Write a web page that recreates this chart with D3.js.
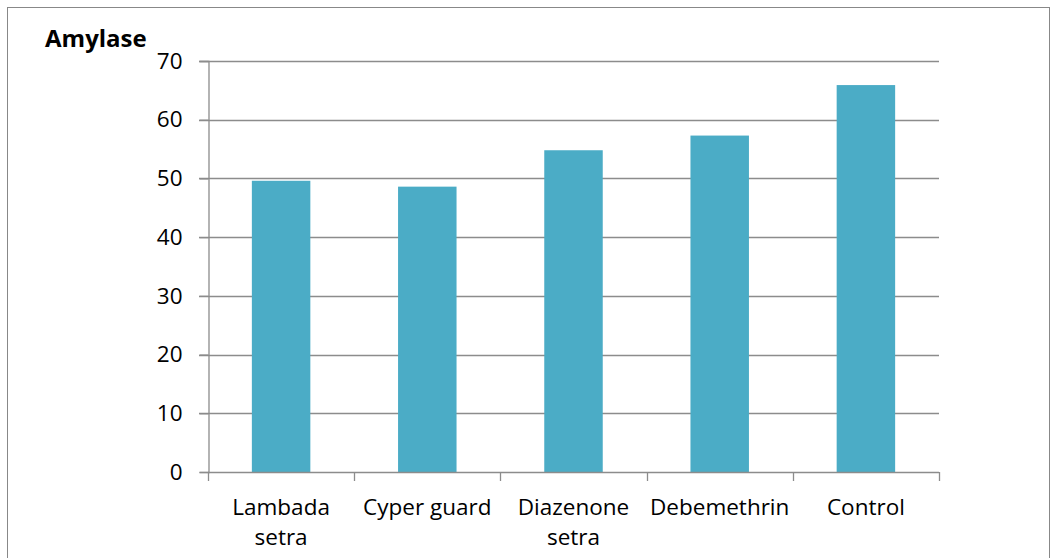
<!DOCTYPE html>
<html><head><meta charset="utf-8">
<script src="https://cdn.jsdelivr.net/npm/d3@7"></script>
<style>body{margin:0;background:#fff}svg{display:block}text{font-family:"Open Sans",sans-serif}</style>
</head><body>
<svg id="c" width="1053" height="558"></svg>
<script>
const categories = ["Lambada setra", "Cyper guard", "Diazenone setra", "Debemethrin", "Control"];
const labelLines = [["Lambada","setra"],["Cyper guard"],["Diazenone","setra"],["Debemethrin"],["Control"]];
const values = [49.6, 48.6, 54.8, 57.3, 65.9];
const yTicks = [0,10,20,30,40,50,60,70];
const title = "Amylase";

const svg = d3.select("#c");
const W = 1053, H = 558;
const m = {left:208, right:114, top:61, bottom:86};
svg.append("rect").attr("x",7.5).attr("y",7.5).attr("width",1042).attr("height",560)
  .attr("fill","#fff").attr("stroke","#888").attr("stroke-width",1);

const x = d3.scaleBand().domain(categories).range([m.left, W-m.right]).paddingInner(0.6).paddingOuter(0.3);
const y = d3.scaleLinear().domain([0,70]).range([H-m.bottom, m.top]);

const g = svg.append("g");
g.selectAll("line.grid").data(yTicks.filter(d=>d>0)).join("line")
  .attr("x1",m.left-9).attr("x2",W-m.right)
  .attr("y1",d=>Math.round(y(d))+0.5).attr("y2",d=>Math.round(y(d))+0.5)
  .attr("stroke","#8c8c8c").attr("stroke-width",1.3);

g.selectAll("rect.bar").data(values).join("rect")
  .attr("x",(d,i)=>x(categories[i])).attr("width",x.bandwidth())
  .attr("y",d=>y(d)).attr("height",d=>y(0)-y(d)).attr("fill","#4BACC6");

const ya = svg.append("g").attr("transform",`translate(${m.left+0.5},0)`)
  .call(d3.axisLeft(y).tickValues(yTicks).tickSize(9).tickPadding(17));
ya.select(".domain").attr("stroke","#8c8c8c").attr("stroke-width",1.3);
ya.selectAll(".tick line").attr("stroke","#8c8c8c").attr("stroke-width",1.3);
ya.selectAll(".tick text").attr("font-size",22.5).attr("fill","#000").attr("font-family","'Open Sans', sans-serif");

const x0 = y(0);
const step = (W-m.right-m.left)/categories.length;
svg.append("line").attr("x1",m.left).attr("x2",W-m.right).attr("y1",Math.round(x0)+0.5).attr("y2",Math.round(x0)+0.5)
  .attr("stroke","#8c8c8c").attr("stroke-width",1.3);
svg.selectAll("line.xt").data(d3.range(categories.length+1)).join("line")
  .attr("x1",i=>Math.round(m.left+i*step)+0.5).attr("x2",i=>Math.round(m.left+i*step)+0.5)
  .attr("y1",Math.round(x0)).attr("y2",Math.round(x0)+9)
  .attr("stroke","#8c8c8c").attr("stroke-width",1.3);

const lab = svg.selectAll("text.xl").data(categories).join("text")
  .attr("text-anchor","middle").attr("font-size",22.5).attr("fill","#000");
lab.each(function(c,i){
  const t = d3.select(this);
  labelLines[i].forEach((ln,j)=>{
    t.append("tspan").attr("x",x(c)+x.bandwidth()/2).attr("y",515+j*30).text(ln);
  });
});

svg.append("text").attr("x",45).attr("y",47).attr("font-size",24).attr("font-weight","bold").attr("fill","#000").text(title);
</script>
</body></html>
